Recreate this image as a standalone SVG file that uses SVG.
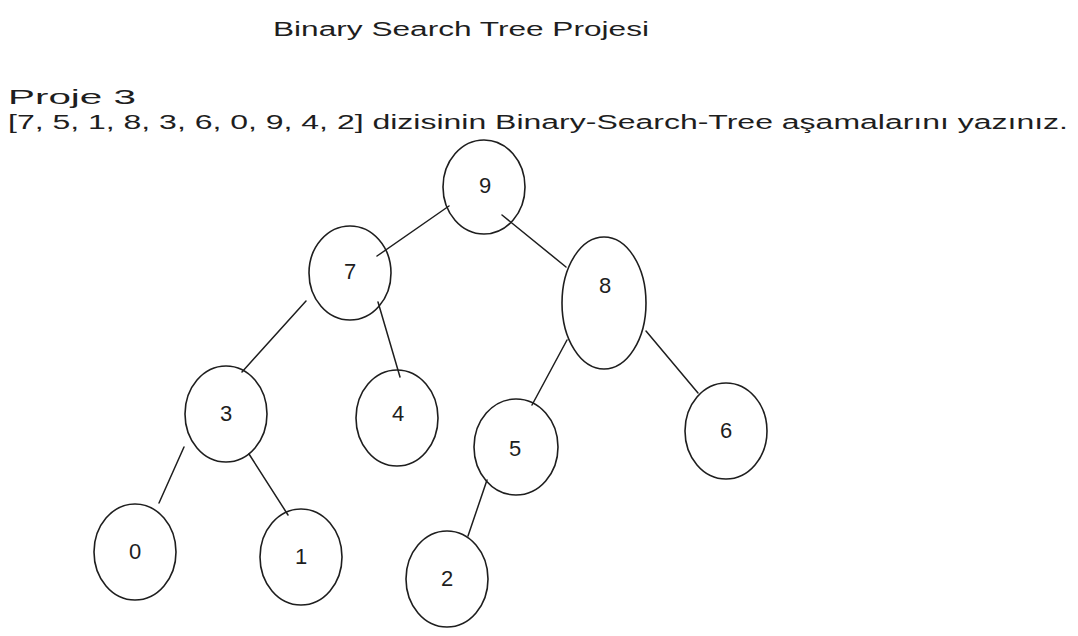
<svg xmlns="http://www.w3.org/2000/svg" width="1078" height="636" viewBox="0 0 1078 636">
<style>
.bg{fill:#ffffff}
.n{fill:none;stroke:#1e1e1e;stroke-width:1.6}
.e{stroke:#1e1e1e;stroke-width:1.5;fill:none;stroke-linecap:round}
.t{font-family:"Liberation Sans",Arial,sans-serif;font-size:20px;fill:#1e1e1e}
.l{font-family:"Liberation Sans",Arial,sans-serif;font-size:22px;fill:#1e1e1e;text-anchor:middle}
</style>
<rect class="bg" x="0" y="0" width="1078" height="636"/>
<text class="t" x="273" y="36" textLength="376" lengthAdjust="spacingAndGlyphs">Binary Search Tree Projesi</text>
<text class="t" x="8" y="104" textLength="128" lengthAdjust="spacingAndGlyphs">Proje 3</text>
<text class="t" x="8" y="129" textLength="1060" lengthAdjust="spacingAndGlyphs">[7, 5, 1, 8, 3, 6, 0, 9, 4, 2] dizisinin Binary-Search-Tree aşamalarını yazınız.</text>
<g id="connectors">
<line class="e" x1="449" y1="206" x2="377" y2="256"/>
<line class="e" x1="502" y1="215" x2="566" y2="267"/>
<line class="e" x1="306" y1="301" x2="242" y2="372"/>
<line class="e" x1="378" y1="302" x2="400" y2="377"/>
<line class="e" x1="184" y1="447" x2="159" y2="503"/>
<line class="e" x1="249" y1="454" x2="288" y2="515"/>
<line class="e" x1="567" y1="340" x2="532" y2="405"/>
<line class="e" x1="646" y1="331" x2="698" y2="393"/>
<line class="e" x1="487" y1="480" x2="468" y2="536"/>
</g>
<g id="node9"><ellipse class="n" cx="484" cy="187" rx="41" ry="47"/><text class="l" x="485" y="193">9</text></g>
<g id="node7"><ellipse class="n" cx="350" cy="273" rx="41" ry="47"/><text class="l" x="350" y="279">7</text></g>
<g id="node8"><ellipse class="n" cx="604" cy="303" rx="42" ry="66"/><text class="l" x="605" y="293">8</text></g>
<g id="node3"><ellipse class="n" cx="226" cy="414" rx="41" ry="48"/><text class="l" x="226" y="421">3</text></g>
<g id="node4"><ellipse class="n" cx="397" cy="418" rx="41" ry="48"/><text class="l" x="398" y="421">4</text></g>
<g id="node0"><ellipse class="n" cx="135" cy="552" rx="41" ry="48"/><text class="l" x="135" y="559">0</text></g>
<g id="node1"><ellipse class="n" cx="301" cy="557" rx="41" ry="48"/><text class="l" x="301" y="564">1</text></g>
<g id="node2"><ellipse class="n" cx="447" cy="579" rx="41" ry="48"/><text class="l" x="447" y="586">2</text></g>
<g id="node5"><ellipse class="n" cx="516" cy="447" rx="42" ry="48"/><text class="l" x="515" y="456">5</text></g>
<g id="node6"><ellipse class="n" cx="726" cy="431" rx="41" ry="48"/><text class="l" x="726" y="438">6</text></g>
</svg>
